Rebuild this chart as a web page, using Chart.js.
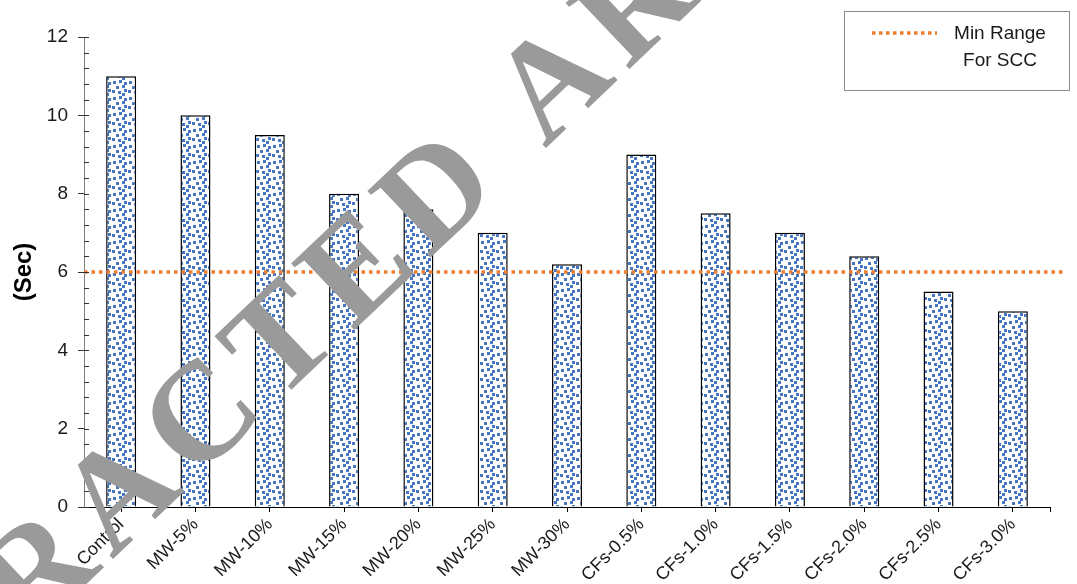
<!DOCTYPE html>
<html>
<head>
<meta charset="utf-8">
<script src="https://cdn.jsdelivr.net/npm/chart.js@4"></script>
<style>
  html, body { margin: 0; padding: 0; background: #fff; }
  #wrap { width: 1077px; height: 584px; }
</style>
</head>
<body>
<div id="wrap"><canvas id="c" width="1077" height="584"></canvas></div>
<script>
// mixes and measured times
const mixes = ['Control', 'MW-5%', 'MW-10%', 'MW-15%', 'MW-20%', 'MW-25%', 'MW-30%',
  'CFs-0.5%', 'CFs-1.0%', 'CFs-1.5%', 'CFs-2.0%', 'CFs-2.5%', 'CFs-3.0%'];
const times = [11, 10, 9.5, 8, 7.6, 7, 6.2, 9, 7.5, 7, 6.4, 5.5, 5];
const minRange = 6;
const yTicks = [0, 2, 4, 6, 8, 10, 12];
const legendLines = ['Min Range', 'For SCC'];
const stamp = 'RETRACTED ARTICLE';

const canvas = document.getElementById('c');
const ctx0 = canvas.getContext('2d');

// little blue squares on white, like the office "confetti" fill
function confetti() {
  const t = document.createElement('canvas');
  t.width = 16; t.height = 16;
  const g = t.getContext('2d');
  g.fillStyle = '#fff';
  g.fillRect(0, 0, 16, 16);
  g.fillStyle = '#4776c2';
  [[1, 1], [7, 0], [12, 2], [4, 6], [10, 5], [0, 10], [6, 11], [12, 9], [10, 13]]
    .forEach(([x, y]) => g.fillRect(x, y, 3, 3));
  return ctx0.createPattern(t, 'repeat');
}

const isMajor = v => yTicks.some(t => Math.abs(t - v) < 1e-6);

// minor tick marks inside the y axis + end tick on x axis
const tickMarks = {
  id: 'tickMarks',
  afterDraw(chart) {
    const ctx = chart.ctx, y = chart.scales.y, x = chart.scales.x;
    const left = chart.chartArea.left;
    ctx.save();
    ctx.strokeStyle = '#333';
    ctx.lineWidth = 1;
    y.ticks.forEach(t => {
      const py = Math.round(y.getPixelForValue(t.value)) + 0.5;
      ctx.beginPath();
      ctx.moveTo(left, py);
      ctx.lineTo(left + 5, py);
      ctx.stroke();
    });
    ctx.strokeStyle = '#000';
    const r = Math.round(chart.chartArea.right) + 0.5;
    ctx.beginPath();
    ctx.moveTo(r, x.top);
    ctx.lineTo(r, x.top + 5);
    ctx.stroke();
    ctx.restore();
  }
};

// dotted orange limit line
const limitLine = {
  id: 'limitLine',
  afterDatasetsDraw(chart) {
    const ctx = chart.ctx, a = chart.chartArea;
    const py = chart.scales.y.getPixelForValue(minRange);
    ctx.save();
    ctx.strokeStyle = '#ed7d31';
    ctx.lineWidth = 3.5;
    ctx.setLineDash([3.5, 4]);
    ctx.beginPath();
    ctx.moveTo(a.left, py);
    ctx.lineTo(a.right + 13, py);
    ctx.stroke();
    ctx.restore();
  }
};

// boxed legend, top right
const boxLegend = {
  id: 'boxLegend',
  afterDraw(chart) {
    const ctx = chart.ctx;
    ctx.save();
    ctx.strokeStyle = '#8c8c8c';
    ctx.lineWidth = 1;
    ctx.strokeRect(844.5, 11.5, 225, 79);
    ctx.strokeStyle = '#ed7d31';
    ctx.lineWidth = 3.5;
    ctx.setLineDash([3.5, 3.5]);
    ctx.beginPath();
    ctx.moveTo(872, 33);
    ctx.lineTo(937, 33);
    ctx.stroke();
    ctx.fillStyle = '#1a1a1a';
    ctx.font = '19px "Liberation Sans", Arial, sans-serif';
    ctx.textAlign = 'center';
    ctx.textBaseline = 'middle';
    ctx.fillText(legendLines[0], 1000, 34);
    ctx.fillText(legendLines[1], 1000, 61);
    ctx.restore();
  }
};

// grey diagonal stamp across the plot, letters spaced out along the baseline
const stampText = {
  id: 'stampText',
  afterDraw(chart) {
    const ctx = chart.ctx;
    const gap = 12;
    ctx.save();
    ctx.font = 'bold 140px "Liberation Serif", "Times New Roman", serif';
    ctx.fillStyle = '#9a9a9a';
    ctx.textAlign = 'left';
    ctx.textBaseline = 'alphabetic';
    // start of the second word sits at (545, 149)
    const head = stamp.slice(0, stamp.indexOf(' ') + 1);
    let lead = 0;
    for (const ch of head) lead += ctx.measureText(ch).width + gap;
    ctx.translate(545, 149);
    ctx.rotate(-43.5 * Math.PI / 180);
    let x = -lead;
    for (const ch of stamp) {
      ctx.fillText(ch, x, 0);
      x += ctx.measureText(ch).width + gap;
    }
    ctx.restore();
  }
};

new Chart(canvas, {
  type: 'bar',
  data: {
    labels: mixes,
    datasets: [{
      data: times,
      backgroundColor: confetti(),
      borderColor: '#000',
      borderWidth: 1.5,
      barPercentage: 0.404,
      categoryPercentage: 1
    }]
  },
  options: {
    responsive: false,
    animation: false,
    devicePixelRatio: 1,
    layout: { padding: { top: 37, right: 27, left: 0, bottom: 0 } },
    plugins: {
      legend: { display: false },
      tooltip: { enabled: false }
    },
    scales: {
      x: {
        afterFit: s => { s.height = 77; },
        border: { display: true, color: '#000', width: 1 },
        grid: { display: true, drawOnChartArea: false, offset: false, tickLength: 5, color: '#000' },
        ticks: {
          autoSkip: false,
          minRotation: 45,
          maxRotation: 45,
          padding: 2,
          color: '#1a1a1a',
          font: { family: '"Liberation Sans", Arial, sans-serif', size: 18 }
        }
      },
      y: {
        min: 0,
        max: 12,
        afterFit: s => { s.width = 84; },
        border: { display: true, color: '#7f7f7f', width: 1 },
        grid: {
          display: true,
          drawOnChartArea: false,
          tickLength: 6,
          tickColor: c => isMajor(c.tick.value) ? '#333' : 'rgba(0,0,0,0)'
        },
        ticks: {
          stepSize: 0.4,
          autoSkip: false,
          padding: 10,
          color: '#1a1a1a',
          font: { family: '"Liberation Sans", Arial, sans-serif', size: 19 },
          callback: v => isMajor(v) ? String(Math.round(v)) : ''
        },
        title: {
          display: true,
          text: '(Sec)',
          color: '#000',
          padding: { top: 10, bottom: 0 },
          font: { family: '"Liberation Sans", Arial, sans-serif', size: 24, weight: 'bold' }
        }
      }
    }
  },
  plugins: [limitLine, tickMarks, boxLegend, stampText]
});
</script>
</body>
</html>
